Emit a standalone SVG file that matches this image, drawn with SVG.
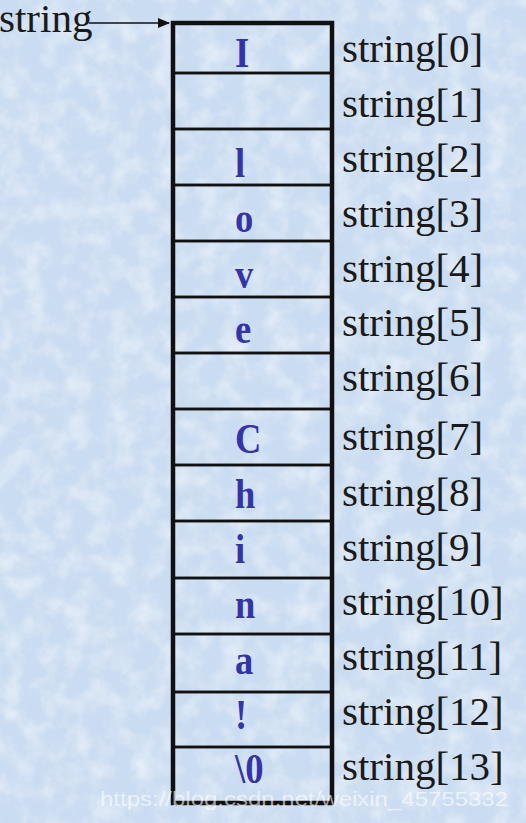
<svg xmlns="http://www.w3.org/2000/svg" width="526" height="823" viewBox="0 0 526 823">
<style>
.lbl{font-family:"Liberation Serif","Times New Roman",serif;font-size:41px;fill:#1a1a1a}
.ch{font-family:"Liberation Serif","Times New Roman",serif;font-size:43px;font-weight:bold;fill:#3434a8}
.cell{fill:none;stroke:#111;stroke-width:2.5}
.wm{font-family:"Liberation Sans",Arial,sans-serif;font-size:21px;fill:#ffffff;fill-opacity:0.6}
</style>
<defs>
<filter id="tex" x="0" y="0" width="100%" height="100%">
<feTurbulence type="fractalNoise" baseFrequency="0.045" numOctaves="4" seed="4"/>
<feColorMatrix type="matrix" values="0 0 0 0 1  0 0 0 0 1  0 0 0 0 1  0 0 0 1.4 -0.55"/>
</filter>
<marker id="ah" markerWidth="12" markerHeight="10" refX="11" refY="5" orient="auto" markerUnits="userSpaceOnUse">
<path d="M0,0 L12,5 L0,10 Z" fill="#111"/>
</marker>
</defs>
<rect x="0" y="0" width="526" height="823" fill="#cadcf1"/>
<rect x="0" y="0" width="526" height="823" filter="url(#tex)" opacity="0.7"/>

<g id="pointer">
<text class="lbl" x="-1" y="32">string</text>
</g>

<g id="cell0"><rect class="cell" x="173" y="23" width="159" height="50"/><text class="ch" transform="matrix(0.85,0,0,1,235,0)" x="0" y="67">I</text><text class="lbl" x="342" y="62">string[0]</text></g>
<g id="cell1"><rect class="cell" x="173" y="73" width="159" height="56"/><text class="lbl" x="342" y="117">string[1]</text></g>
<g id="cell2"><rect class="cell" x="173" y="129" width="159" height="56"/><text class="ch" transform="matrix(0.85,0,0,1,235,0)" x="0" y="177.5">l</text><text class="lbl" x="342" y="172">string[2]</text></g>
<g id="cell3"><rect class="cell" x="173" y="185" width="159" height="56"/><text class="ch" transform="matrix(0.85,0,0,1,235,0)" x="0" y="232.5">o</text><text class="lbl" x="342" y="227">string[3]</text></g>
<g id="cell4"><rect class="cell" x="173" y="241" width="159" height="56"/><text class="ch" transform="matrix(0.85,0,0,1,235,0)" x="0" y="288">v</text><text class="lbl" x="342" y="282">string[4]</text></g>
<g id="cell5"><rect class="cell" x="173" y="297" width="159" height="56"/><text class="ch" transform="matrix(0.85,0,0,1,235,0)" x="0" y="343">e</text><text class="lbl" x="342" y="336">string[5]</text></g>
<g id="cell6"><rect class="cell" x="173" y="353" width="159" height="56"/><text class="lbl" x="342" y="391">string[6]</text></g>
<g id="cell7"><rect class="cell" x="173" y="409" width="159" height="56"/><text class="ch" transform="matrix(0.85,0,0,1,235,0)" x="0" y="453.5">C</text><text class="lbl" x="342" y="450">string[7]</text></g>
<g id="cell8"><rect class="cell" x="173" y="465" width="159" height="56"/><text class="ch" transform="matrix(0.85,0,0,1,235,0)" x="0" y="508">h</text><text class="lbl" x="342" y="506">string[8]</text></g>
<g id="cell9"><rect class="cell" x="173" y="521" width="159" height="57"/><text class="ch" transform="matrix(0.85,0,0,1,235,0)" x="0" y="563">i</text><text class="lbl" x="342" y="561">string[9]</text></g>
<g id="cell10"><rect class="cell" x="173" y="578" width="159" height="56"/><text class="ch" transform="matrix(0.85,0,0,1,235,0)" x="0" y="618">n</text><text class="lbl" x="342" y="615">string[10]</text></g>
<g id="cell11"><rect class="cell" x="173" y="634" width="159" height="58"/><text class="ch" transform="matrix(0.85,0,0,1,235,0)" x="0" y="674">a</text><text class="lbl" x="342" y="670">string[11]</text></g>
<g id="cell12"><rect class="cell" x="173" y="692" width="159" height="55"/><text class="ch" transform="matrix(0.85,0,0,1,235,0)" x="0" y="729">!</text><text class="lbl" x="342" y="725">string[12]</text></g>
<g id="cell13"><rect class="cell" x="173" y="747" width="159" height="56"/><text class="ch" transform="matrix(0.85,0,0,1,235,0)" x="0" y="783">\0</text><text class="lbl" x="342" y="780">string[13]</text></g>

<g id="outline"><rect x="173" y="23" width="159" height="780" fill="none" stroke="#111" stroke-width="4.5"/></g>

<g id="connectors">
<line x1="89" y1="23" x2="169" y2="23" stroke="#111" stroke-width="1.6" marker-end="url(#ah)"/>
</g>

<text class="wm" x="100" y="806" textLength="408" lengthAdjust="spacingAndGlyphs">https://blog.csdn.net/weixin_45755332</text>
</svg>
